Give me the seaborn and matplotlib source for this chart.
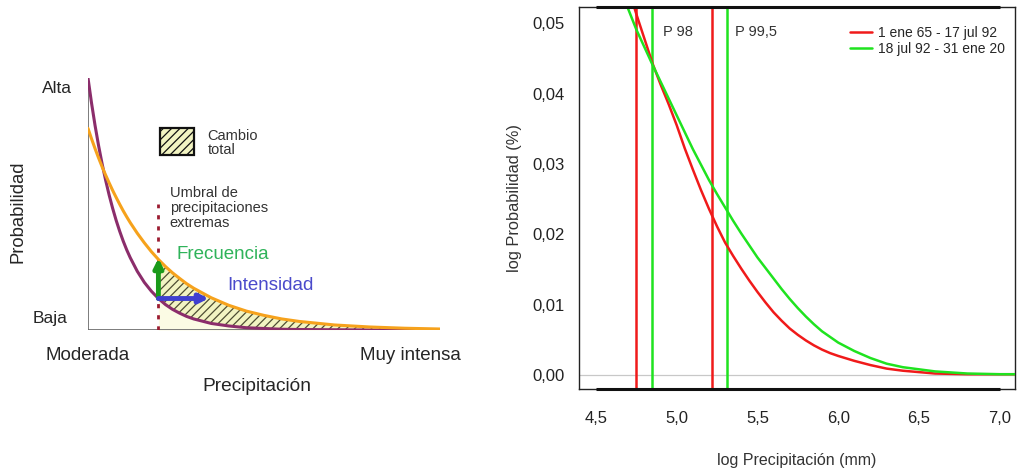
import matplotlib.pyplot as plt
import matplotlib.patches as mpatches
import numpy as np
import pandas as pd
import seaborn as sns

# ---- esquema (panel izquierdo), ejes normalizados 0-1 ----
esq_x = [0.00, 0.01, 0.02, 0.03, 0.04, 0.05, 0.06, 0.07, 0.08, 0.09, 0.10,
         0.11, 0.12, 0.14, 0.16, 0.18, 0.20, 0.22, 0.24, 0.26, 0.28, 0.30,
         0.35, 0.40, 0.45, 0.50, 0.55, 0.60, 0.70, 0.80, 0.90, 1.00]
esq_antes = [1.000, 0.901, 0.812, 0.732, 0.660, 0.595, 0.536, 0.483, 0.435,
             0.392, 0.353, 0.318, 0.287, 0.233, 0.189, 0.154, 0.125, 0.101,
             0.082, 0.067, 0.054, 0.044, 0.026, 0.016, 0.009, 0.006, 0.003,
             0.002, 0.001, 0.000, 0.000, 0.000]
esq_despues = [0.800, 0.759, 0.720, 0.683, 0.648, 0.615, 0.584, 0.554, 0.526,
               0.499, 0.473, 0.449, 0.426, 0.384, 0.346, 0.311, 0.280, 0.252,
               0.227, 0.205, 0.184, 0.166, 0.128, 0.098, 0.075, 0.058, 0.044,
               0.034, 0.020, 0.012, 0.007, 0.004]
umbral = 0.20
intensidad_fin = 0.343

# ---- densidades (panel derecho) ----
rojo_x = [4.70, 4.75, 4.80, 4.85, 4.90, 4.95, 5.00, 5.05, 5.10, 5.15, 5.20,
          5.25, 5.30, 5.35, 5.40, 5.45, 5.50, 5.55, 5.60, 5.65, 5.70, 5.75,
          5.80, 5.85, 5.90, 5.95, 6.00, 6.10, 6.20, 6.30, 6.40, 6.50, 6.60,
          6.80, 7.00, 7.20]
rojo_y = [0.0550, 0.0513, 0.0478, 0.0443, 0.0413, 0.0385, 0.0355, 0.0322,
          0.0292, 0.0263, 0.0236, 0.0211, 0.0188, 0.0169, 0.0151, 0.0134,
          0.0118, 0.0103, 0.0089, 0.0077, 0.0066, 0.0057, 0.0049, 0.0042,
          0.0036, 0.0031, 0.0027, 0.0020, 0.0014, 0.0009, 0.0006, 0.0004,
          0.0002, 0.0001, 0.0001, 0.0001]
verde_x = [4.65, 4.70, 4.75, 4.80, 4.85, 4.90, 4.95, 5.00, 5.05, 5.10, 5.15,
           5.20, 5.25, 5.30, 5.35, 5.40, 5.45, 5.50, 5.55, 5.60, 5.65, 5.70,
           5.75, 5.80, 5.85, 5.90, 5.95, 6.00, 6.10, 6.20, 6.30, 6.40, 6.50,
           6.60, 6.80, 7.00, 7.20]
verde_y = [0.0555, 0.0520, 0.0491, 0.0466, 0.0441, 0.0417, 0.0393, 0.0369,
           0.0345, 0.0321, 0.0299, 0.0277, 0.0257, 0.0238, 0.0219, 0.0201,
           0.0184, 0.0167, 0.0152, 0.0137, 0.0122, 0.0108, 0.0095, 0.0083,
           0.0072, 0.0062, 0.0054, 0.0046, 0.0034, 0.0024, 0.0016, 0.0011,
           0.0008, 0.0005, 0.0002, 0.0001, 0.0001]
periodos = ["1 ene 65 - 17 jul 92", "18 jul 92 - 31 ene 20"]
p98 = [4.75, 4.845]
p995 = [5.22, 5.31]
xticks = [4.5, 5.0, 5.5, 6.0, 6.5, 7.0]
xtick_labels = ["4,5", "5,0", "5,5", "6,0", "6,5", "7,0"]
yticks = [0.00, 0.01, 0.02, 0.03, 0.04, 0.05]
ytick_labels = ["0,00", "0,01", "0,02", "0,03", "0,04", "0,05"]

sns.set_style("white")
plt.rcParams['font.family'] = ['Liberation Sans', 'DejaVu Sans']
plt.rcParams['hatch.linewidth'] = 0.9

ROJO = '#f01a1a'
VERDE = '#1fe31f'
PURPURA = '#8b2d6b'
NARANJA = '#f6a21c'
GRIS_TXT = '#333333'

fig = plt.figure(figsize=(10.2, 4.71), dpi=100)

# ================= panel izquierdo =================
ax1 = fig.add_axes([88 / 1020, 1 - 330 / 471, 352 / 1020, 252 / 471])

x = np.array(esq_x)
y_a = np.array(esq_antes)
y_d = np.array(esq_despues)
mask = x >= umbral
ax1.fill_between(x, 0, y_a, where=mask, color='#fbfbe4', lw=0, zorder=1)
ax1.fill_between(x, y_a, y_d, where=mask, facecolor='#f2f4c2',
                 edgecolor='#4d4d33', hatch='////', lw=0, zorder=2)

ax1.plot([0, 0], [0, 1.0], color='#666666', lw=1.2, zorder=3)
ax1.plot([0, 1], [0, 0], color='#666666', lw=1.2, zorder=3)

df_esq = pd.DataFrame({'x': esq_x * 2,
                       'y': esq_antes + esq_despues,
                       'serie': ['antes'] * len(esq_x) + ['despues'] * len(esq_x)})
sns.lineplot(data=df_esq, x='x', y='y', hue='serie',
             palette={'antes': PURPURA, 'despues': NARANJA},
             lw=2.2, legend=False, ax=ax1, zorder=4)
ax1.set_xlim(0, 1)
ax1.set_ylim(0, 1)
ax1.axis('off')

y_umb_a = np.interp(umbral, x, y_a)
y_umb_d = np.interp(umbral, x, y_d)
ax1.plot([umbral, umbral], [0, 0.50], color='#9b1b30', lw=2,
         ls=(0, (1.5, 2.5)), zorder=3)
ax1.annotate('', xy=(umbral, y_umb_d + 0.005), xytext=(umbral, y_umb_a),
             arrowprops=dict(arrowstyle='-|>', color='#1a9a1a', lw=3.5,
                             mutation_scale=13, shrinkA=0, shrinkB=0), zorder=6)
ax1.annotate('', xy=(intensidad_fin, y_umb_a), xytext=(umbral, y_umb_a),
             arrowprops=dict(arrowstyle='-|>', color='#3f3fd0', lw=3.5,
                             mutation_scale=13, shrinkA=0, shrinkB=0), zorder=6)

ax1.add_patch(mpatches.Rectangle((0.205, 0.695), 0.097, 0.105,
                                 facecolor='#f2f4c2', edgecolor='#111111',
                                 hatch='////', lw=1.6, zorder=5))
ax1.text(0.34, 0.742, 'Cambio\ntotal', fontsize=10.5, color=GRIS_TXT,
         va='center', ha='left', linespacing=1.0)
ax1.text(0.232, 0.484, 'Umbral de\nprecipitaciones\nextremas', fontsize=10.5,
         color=GRIS_TXT, va='center', ha='left', linespacing=1.1)
ax1.text(0.25, 0.30, 'Frecuencia', fontsize=13.5, color='#2fb35a',
         va='center', ha='left')
ax1.text(0.395, 0.178, 'Intensidad', fontsize=13.5, color='#4a4acb',
         va='center', ha='left')
ax1.text(-0.045, 0.96, 'Alta', fontsize=12.5, ha='right', va='center')
ax1.text(-0.057, 0.045, 'Baja', fontsize=12.5, ha='right', va='center')
ax1.text(0.0, -0.10, 'Moderada', fontsize=13.5, ha='center', va='center')
ax1.text(0.915, -0.10, 'Muy intensa', fontsize=13.5, ha='center', va='center')
ax1.text(0.48, -0.225, 'Precipitación', fontsize=13.8, ha='center', va='center')
ax1.text(-0.20, 0.468, 'Probabilidad', fontsize=13.3, ha='center', va='center',
         rotation=90)

# ================= panel derecho =================
ax2 = fig.add_axes([579 / 1020, 1 - 389 / 471, 436 / 1020, 382 / 471])

df = pd.DataFrame({'x': rojo_x + verde_x,
                   'y': rojo_y + verde_y,
                   'periodo': [periodos[0]] * len(rojo_x) + [periodos[1]] * len(verde_x)})
ax2.axhline(0, color='#c8c8c8', lw=0.9, zorder=1)
sns.lineplot(data=df, x='x', y='y', hue='periodo',
             palette={periodos[0]: ROJO, periodos[1]: VERDE},
             lw=1.8, ax=ax2, zorder=3)
for xv in [p98[0], p995[0]]:
    ax2.axvline(xv, color=ROJO, lw=1.8, zorder=2)
for xv in [p98[1], p995[1]]:
    ax2.axvline(xv, color=VERDE, lw=1.8, zorder=2)

ax2.set_xlim(4.395, 7.095)
ax2.set_ylim(-0.0020, 0.0523)
ax2.set_xticks(xticks)
ax2.set_xticklabels(xtick_labels)
ax2.set_yticks(yticks)
ax2.set_yticklabels(ytick_labels)
ax2.tick_params(axis='both', direction='out', length=6, width=1,
                color='#222222', labelsize=12, labelcolor='#222222')
ax2.tick_params(axis='x', pad=10)
ax2.tick_params(axis='y', pad=4)
for s in ax2.spines.values():
    s.set_color('#222222')
    s.set_linewidth(1)
ylo, yhi = ax2.get_ylim()
ax2.hlines([ylo, yhi], xticks[0], xticks[-1], color='#111111', lw=2.2,
           clip_on=False, zorder=5)

ax2.text(4.915, 0.0487, 'P 98', fontsize=10.5, color=GRIS_TXT, va='center')
ax2.text(5.36, 0.0487, 'P 99,5', fontsize=10.5, color=GRIS_TXT, va='center')

ax2.set_xlabel('log Precipitación (mm)', fontsize=11.5, color=GRIS_TXT,
               labelpad=19)
ax2.set_ylabel('log Probabilidad (%)', fontsize=11.8, color=GRIS_TXT,
               labelpad=8)
ax2.legend(loc='upper right', bbox_to_anchor=(0.989, 0.966), frameon=False,
           fontsize=10, handlelength=1.6, handletextpad=0.4, labelspacing=0.2,
           borderaxespad=0)

fig.savefig('out.png', dpi=100)
